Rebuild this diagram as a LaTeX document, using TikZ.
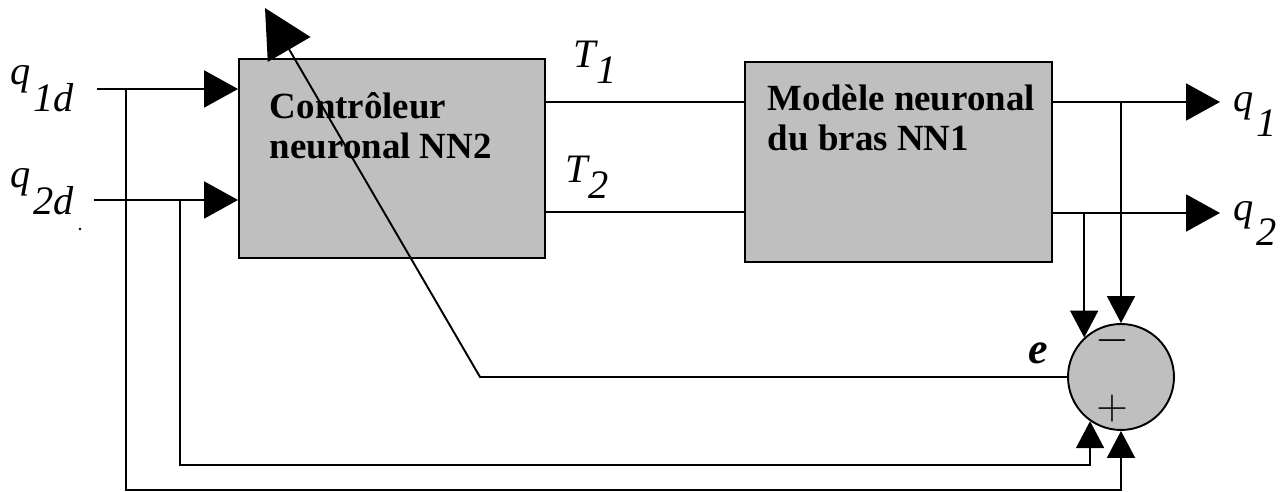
\documentclass[tikz,border=0pt]{standalone}
\usepackage{fontspec}
\setmainfont{Liberation Serif}
\usetikzlibrary{arrows.meta}

\tikzset{
  bloque/.style={draw,fill=gray!50,inner sep=0pt},
  texto/.style={font=\fontsize{21}{23}\selectfont\bfseries,align=left,inner sep=0pt},
  etiq/.style={font=\fontsize{23}{23}\selectfont\itshape,inner sep=0pt},
  flecha/.style={-{Triangle[length=6.8mm,width=7.4mm]}},
  flechita/.style={-{Triangle[length=5.4mm,width=5.6mm]}}
}
% letra con subindice grande y bajado (#1 = bajada, #2 = kern)
\newcommand{\subind}[4]{#3\kern#2\raisebox{-#1}{#4}}

\begin{document}
\begin{tikzpicture}[x=0.02cm,y=-0.02cm,line width=1.1pt]
\useasboundingbox (0,0) rectangle (1286,492);

% Bloques
\node[bloque,minimum width=6.12cm,minimum height=3.98cm] (ctrl) at (392,158.5) {};
\node[bloque,minimum width=6.14cm,minimum height=4cm] (model) at (898.5,162) {};
\node[bloque,circle,minimum size=2.12cm] (sum) at (1121,377) {};

% Textos de los bloques
\node[texto,anchor=base west] (ctrltxt) at (269,159) {Contrôleur\\neuronal NN2};
\node[texto,anchor=base west] (modeltxt) at (767,151) {Modèle neuronal\\du bras NN1};

% Signos del sumador
\node[inner sep=0pt,font=\fontsize{26}{26}\selectfont] (menos) at (1112,341) {$-$};
\node[inner sep=0pt,font=\fontsize{26}{26}\selectfont] (mas) at (1112,409) {$+$};

% Entradas q1d, q2d
\coordinate (in1) at (97,89);
\coordinate (in2) at (94,200);
\draw[flecha] (in1) -- (in1 -| ctrl.west);
\draw[flecha] (in2) -- (in2 -| ctrl.west);
\node[etiq,anchor=base west] (q1d) at (10,85) {\subind{0.65em}{0.05em}{q}{1d}};
\node[etiq,anchor=base west] (q2d) at (10,188) {\subind{0.65em}{0.05em}{q}{2d}};
\fill (80,229) circle (1.3);

% Pares T1, T2
\coordinate (t1) at (0,102);
\coordinate (t2) at (0,212);
\draw (ctrl.east |- t1) -- (model.west |- t1);
\draw (ctrl.east |- t2) -- (model.west |- t2);
\node[etiq,anchor=base west] (T1) at (573,68) {\subind{0.38em}{0em}{T}{1}};
\node[etiq,anchor=base west] (T2) at (565,183) {\subind{0.38em}{0em}{T}{2}};

% Salidas q1, q2
\coordinate (s1) at (1220,102);
\coordinate (s2) at (1220,213);
\draw[flecha] (model.east |- s1) -- (s1);
\draw[flecha] (model.east |- s2) -- (s2);
\node[etiq,anchor=base west] (q1) at (1233,112) {\subind{0.6em}{0.05em}{q}{1}};
\node[etiq,anchor=base west] (q2) at (1233,221) {\subind{0.6em}{0.05em}{q}{2}};

% Realimentacion hacia el sumador
\draw[flechita] (sum.north |- s1) -- (sum.north);
\draw[flechita] (sum.133 |- s2) -- (sum.133);

% Consignas hacia el sumador
\coordinate (r1) at (126,490);
\coordinate (r2) at (180,465);
\draw[flechita] (in1 -| r1) -- (r1) -| (sum.south);
\draw[flechita] (in2 -| r2) -- (r2) -| (sum.235);

% Error e que ajusta el controlador
\coordinate (codo) at (480,377);
\coordinate (ajuste) at (265,8);
\draw[-{Triangle[length=9.6mm,width=9.8mm]}] (sum.west) -- (codo) -- (ajuste);
\node[etiq,font=\fontsize{25}{25}\selectfont\bfseries\itshape] (e) at (1038,353) {e};

\end{tikzpicture}
\end{document}
